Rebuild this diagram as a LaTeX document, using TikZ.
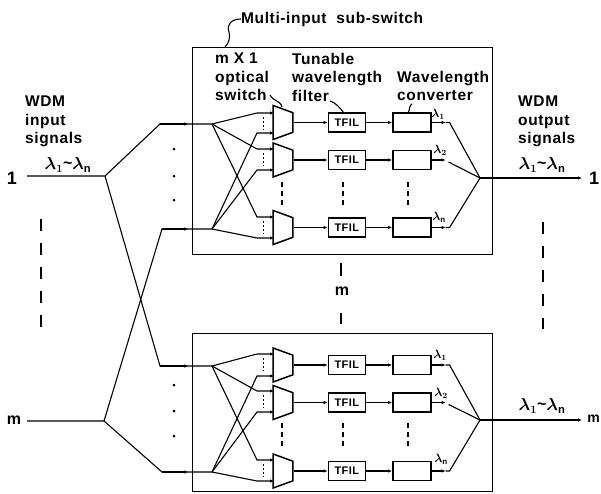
\documentclass[tikz,border=0pt]{standalone}
\usepackage{fontspec}
\setmainfont{Liberation Sans}[LetterSpace=4]
\usetikzlibrary{arrows.meta,positioning,shapes.geometric}

\begin{document}
\begin{tikzpicture}[
  x=1pt, y=-1pt,
  node distance=10pt and 34pt,
  every node/.style={inner sep=0pt},
  label/.style={align=left, anchor=north west, font=\bfseries\fontsize{15.5}{18.5}\selectfont},
  lam/.style={font=\boldmath\fontsize{12}{12}\selectfont},
  siglam/.style={font=\bfseries\boldmath\fontsize{16}{16}\selectfont},
  subswitch/.style={draw=black, line width=1.1pt, minimum width=300pt, anchor=north west},
  optswitch/.style={draw=black, line width=1.5pt, trapezium, trapezium angle=70, shape border rotate=270, inner sep=1pt, minimum width=34pt, minimum height=18pt},
  tfil/.style={draw=black, line width=1.5pt, minimum width=37pt, minimum height=19pt, font=\bfseries\fontsize{11}{11}\selectfont},
  conv/.style={draw=black, line width=1.5pt, minimum width=38pt, minimum height=19pt},
  arrow/.style={-{Latex[length=4pt,width=3.5pt]}, line width=1.1pt},
  wire/.style={line width=1.1pt},
  bar/.style={line width=1.2pt, dash pattern=on 12pt off 12pt},
  vdots/.style={line width=1.1pt, dash pattern=on 5pt off 4pt}
]
  \useasboundingbox (0,0) rectangle (601,493);

  \node[subswitch, minimum height=207pt] (box1) at (192,47) {};
  \node[subswitch, minimum height=158pt] (box2) at (192,333) {};

  % upper sub-switch
  \node[optswitch] (s11) at (283,122.5) {};
  \node[optswitch] (s12) at (283,160) {};
  \node[optswitch] (s13) at (283,227.5) {};
  \node[tfil, right=34pt of s11] (t11) {TFIL};
  \node[tfil, right=34pt of s12] (t12) {TFIL};
  \node[tfil, right=34pt of s13] (t13) {TFIL};
  \node[conv, right=26pt of t11] (c11) {};
  \node[conv, right=26pt of t12] (c12) {};
  \node[conv, right=26pt of t13] (c13) {};

  % lower sub-switch
  \node[optswitch] (s21) at (283,365) {};
  \node[optswitch] (s22) at (283,402.5) {};
  \node[optswitch] (s23) at (283,471) {};
  \node[tfil, right=34pt of s21] (t21) {TFIL};
  \node[tfil, right=34pt of s22] (t22) {TFIL};
  \node[tfil, right=34pt of s23] (t23) {TFIL};
  \node[conv, right=26pt of t21] (c21) {};
  \node[conv, right=26pt of t22] (c22) {};
  \node[conv, right=26pt of t23] (c23) {};

  % labels
  \node[label] at (25,96) (wdmin) {WDM\\input\\signals};
  \node[label] at (518,96) (wdmout) {WDM\\output\\signals};
  \node[label] at (215,53) (mx1) {m X 1\\optical\\switch};
  \node[label] at (292,53) (tunable) {Tunable\\wavelength\\filter};
  \node[label] at (397,71) (wavel) {Wavelength\\converter};
  \node[label, anchor=west] at (241,19) (multi) {Multi-input\ \ sub-switch};
  \node[font=\bfseries\fontsize{18}{18}\selectfont] at (12,178) (in1) {1};
  \node[font=\bfseries\fontsize{16}{16}\selectfont] at (14,420) (inm) {m};
  \node[font=\bfseries\fontsize{18}{18}\selectfont] at (594,178) (out1) {1};
  \node[anchor=east, font=\bfseries\fontsize{14}{14}\selectfont] at (600,419) (outm) {m};
  \node[font=\bfseries\fontsize{16}{16}\selectfont] at (342,291) (midm) {m};
  \node[siglam] at (68,165) (in1lam) {$\lambda_1$\raisebox{1pt}{\textasciitilde}$\lambda_{\mathrm{n}}$};
  \node[siglam] at (542,165) (out1lam) {$\lambda_1$\raisebox{1pt}{\textasciitilde}$\lambda_{\mathrm{n}}$};
  \node[siglam] at (542,406) (outmlam) {$\lambda_1$\raisebox{1pt}{\textasciitilde}$\lambda_{\mathrm{n}}$};
  \node[lam] at (438,114) (l11) {$\lambda_1$};
  \node[lam] at (440,150) (l12) {$\lambda_2$};
  \node[lam] at (439,217) (l13) {$\lambda_{\mathrm{n}}$};
  \node[lam] at (440,355) (l21) {$\lambda_1$};
  \node[lam] at (441,393) (l22) {$\lambda_2$};
  \node[lam] at (441,459) (l23) {$\lambda_{\mathrm{n}}$};

  % junctions
  \coordinate (h1) at (105,176);
  \coordinate (hm) at (104,421);
  \coordinate (j11) at (160,124);
  \coordinate (j12) at (160,366);
  \coordinate (j21) at (162,229);
  \coordinate (j22) at (162,472);
  \coordinate (a1) at (212,124);
  \coordinate (b1) at (212,229);
  \coordinate (a2) at (212,366);
  \coordinate (b2) at (212,472);
  \coordinate (o1) at (480,178);
  \coordinate (o2) at (480,420);

  % inputs
  \draw[wire] (27,176) coordinate (i1) -- (h1) -- (j11) -- (a1);
  \draw[wire] (h1) -- (j12) -- (a2);
  \draw[wire] (27,421) coordinate (im) -- (hm) -- (j21) -- (b1);
  \draw[wire] (hm) -- (j22) -- (b2);
  \draw[arrow] (j11) -- (188,124);
  \draw[arrow] (j21) -- (188,229);
  \draw[arrow] (j12) -- (188,366);
  \draw[arrow] (j22) -- (188,472);

  % upper fan-out
  \draw[arrow] (a1) -- (257,113) -- (274,113);
  \draw[arrow] (b1) -- (257,133) -- (274,133);
  \draw[arrow] (a1) -- (257,149) -- (274,149);
  \draw[arrow] (b1) -- (257,170) -- (274,170);
  \draw[arrow] (a1) -- (257,217) -- (274,217);
  \draw[arrow] (b1) -- (257,238) -- (274,238);

  % lower fan-out
  \draw[arrow] (a2) -- (257,354) -- (274,354);
  \draw[arrow] (b2) -- (257,376) -- (274,376);
  \draw[arrow] (a2) -- (257,391) -- (274,391);
  \draw[arrow] (b2) -- (257,412) -- (274,412);
  \draw[arrow] (a2) -- (257,460) -- (274,460);
  \draw[arrow] (b2) -- (257,481) -- (274,481);

  % rows
  \draw[arrow] (s11) -- (t11);
  \draw[arrow] (s12) -- (t12);
  \draw[arrow] (s13) -- (t13);
  \draw[arrow] (t11) -- (c11);
  \draw[arrow] (t12) -- (c12);
  \draw[arrow] (t13) -- (c13);
  \draw[arrow] (s21) -- (t21);
  \draw[arrow] (s22) -- (t22);
  \draw[arrow] (s23) -- (t23);
  \draw[arrow] (t21) -- (c21);
  \draw[arrow] (t22) -- (c22);
  \draw[arrow] (t23) -- (c23);

  % outputs
  \draw[arrow] (c11.east) -- ++(14,0) coordinate (e11);
  \draw[arrow] (c12.east) -- ++(14,0) coordinate (e12);
  \draw[arrow] (c13.east) -- ++(14,0) coordinate (e13);
  \draw[arrow] (c21.east) -- ++(14,0) coordinate (e21);
  \draw[arrow] (c22.east) -- ++(14,0) coordinate (e22);
  \draw[arrow] (c23.east) -- ++(14,0) coordinate (e23);
  \draw[wire] (e11) -- ++(4,0) -- (o1);
  \draw[wire] (e12) ++(3,2) -- (o1);
  \draw[wire] (e13) -- ++(4,0) -- (o1);
  \draw[wire] (e21) -- ++(4,0) -- (o2);
  \draw[wire] (e22) ++(3,2) -- (o2);
  \draw[wire] (e23) -- ++(4,0) -- (o2);
  \draw[arrow] (o1) -- (582,178);
  \draw[arrow] (o2) -- (582,420);

  % dots between inputs
  \foreach \y in {149,176,200,385,411,436}
    \fill (174,\y) circle (1.5pt);
  \foreach \y in {113,149,217,354,391,460}
    \draw[line width=0.9pt, dash pattern=on 2pt off 2pt] (263,\y+4) -- (263,\y+17);

  % vertical bars
  \draw[bar] (41,219) -- (41,327);
  \draw[bar] (543,222) -- (543,329);
  \draw[line width=1.2pt] (341,263) -- (341,276);
  \draw[line width=1.2pt] (341,313) -- (341,324);
  \draw[vdots] (282,182) -- (282,205);
  \draw[vdots] (343,182) -- (343,205);
  \draw[vdots] (408,182) -- (408,205);
  \draw[vdots] (282,423) -- (282,447);
  \draw[vdots] (343,423) -- (343,447);
  \draw[vdots] (408,423) -- (408,447);

  % leaders
  \draw[wire] (multi.west) .. controls (232,19) and (226,24) .. (229,32) .. controls (231,38) and (228,44) .. (225,47);
  \draw[wire] (270,95) .. controls (274,102) and (280,100) .. (282,107);
  \draw[wire] (330,101) .. controls (335,102) and (340,108) .. (344,113);
  \draw[wire] (412,104) .. controls (409,105) and (410,110) .. (408,113);
\end{tikzpicture}
\end{document}
